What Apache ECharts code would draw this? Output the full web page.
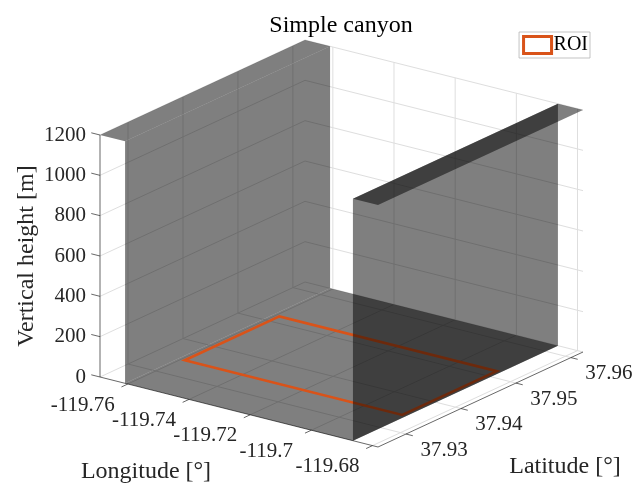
<!DOCTYPE html>
<html>
<head>
<meta charset="utf-8">
<script src="https://cdn.jsdelivr.net/npm/echarts@6/dist/echarts.min.js"></script>
<style>
  html, body { margin: 0; padding: 0; background: #ffffff; }
  #chart { width: 634px; height: 488px; }
</style>
</head>
<body>
<div id="chart"></div>
<script>
// ---- Axis ticks ----
const lonTicks = [-119.76, -119.74, -119.72, -119.70, -119.68];
const latTicks = [37.93, 37.94, 37.95, 37.96];
const heightTicks = [0, 200, 400, 600, 800, 1000, 1200];

// ---- Axis limits [min, max] ----
const lonLimits = [-119.7691, -119.6782];
const latLimits = [37.9249, 37.9622];
const heightLimits = [0, 1200];

// ---- Canyon blocks: [lonMin, lonMax, latMin, latMax, height] ----
const westBlock = [-119.7800, -119.7609, 37.9100, 37.9800, 1200];
const eastBlock = [-119.6864, -119.6600, 37.9100, 37.9800, 1200];

// ---- Canyon floor: [lonMin, lonMax, latMin, latMax] ----
const canyonFloor = [-119.7609, -119.6864, 37.9100, 37.9800];

// ---- Region of interest: [lonMin, lonMax, latMin, latMax] ----
const roiBox = [-119.7588, -119.6877, 37.9346, 37.9518];

// ---- View: screen placement of the 3-D axes box (orthographic) ----
const VIEW = {
  origin: [100, 377],   // (lonMin, latMin, 0)
  ex: [278, 70],        // full longitude span
  ey: [205, -95],       // full latitude span
  ez: [0, -242]         // full height span
};

const SERIF = '"Liberation Serif", "Times New Roman", serif';
const TICK_FONT = '21px ' + SERIF;
const LABEL_FONT = '24px ' + SERIF;
const GRID_COLOR = '#dedede';
const AXIS_COLOR = '#262626';
const SHADE = 'rgba(0,0,0,0.5)';
const ROI_COLOR = '#D95319';

function frac(v, r) { return (v - r[0]) / (r[1] - r[0]); }
function project(p) {
  const a = frac(p[0], lonLimits), b = frac(p[1], latLimits), c = frac(p[2], heightLimits);
  return [
    VIEW.origin[0] + a * VIEW.ex[0] + b * VIEW.ey[0] + c * VIEW.ez[0],
    VIEW.origin[1] + a * VIEW.ex[1] + b * VIEW.ey[1] + c * VIEW.ez[1]
  ];
}
function unit(v, s) { const l = Math.hypot(v[0], v[1]); return [v[0] / l * s, v[1] / l * s]; }
function clamp(v, r) { return Math.min(Math.max(v, r[0]), r[1]); }
function within(v, r) { return v >= r[0] - 1e-9 && v <= r[1] + 1e-9; }

// Walls and roof of a block, clipped to the axes limits
function blockFaces(b) {
  const [x0, x1, y0, y1, h] = b;
  const cx0 = clamp(x0, lonLimits), cx1 = clamp(x1, lonLimits);
  const cy0 = clamp(y0, latLimits), cy1 = clamp(y1, latLimits);
  const ch = clamp(h, heightLimits);
  const faces = [[[cx0, cy0, ch], [cx1, cy0, ch], [cx1, cy1, ch], [cx0, cy1, ch]]];
  if (within(x0, lonLimits)) faces.push([[x0, cy0, 0], [x0, cy1, 0], [x0, cy1, ch], [x0, cy0, ch]]);
  if (within(x1, lonLimits)) faces.push([[x1, cy0, 0], [x1, cy1, 0], [x1, cy1, ch], [x1, cy0, ch]]);
  if (within(y0, latLimits)) faces.push([[cx0, y0, 0], [cx1, y0, 0], [cx1, y0, ch], [cx0, y0, ch]]);
  if (within(y1, latLimits)) faces.push([[cx0, y1, 0], [cx1, y1, 0], [cx1, y1, ch], [cx0, y1, ch]]);
  return faces;
}
function groundFace(g) {
  const x0 = clamp(g[0], lonLimits), x1 = clamp(g[1], lonLimits);
  const y0 = clamp(g[2], latLimits), y1 = clamp(g[3], latLimits);
  return [[x0, y0, 0], [x1, y0, 0], [x1, y1, 0], [x0, y1, 0]];
}

// ---- Grid lines on floor and the two back planes ----
const [L0, L1] = lonLimits, [B0, B1] = latLimits, [H0, H1] = heightLimits;
const gridSegments = [];
lonTicks.forEach(t => {
  gridSegments.push([[t, B0, H0], [t, B1, H0]]);
  gridSegments.push([[t, B1, H0], [t, B1, H1]]);
});
latTicks.forEach(t => {
  gridSegments.push([[L0, t, H0], [L1, t, H0]]);
  gridSegments.push([[L0, t, H0], [L0, t, H1]]);
});
heightTicks.forEach(h => {
  gridSegments.push([[L0, B0, h], [L0, B1, h]]);
  gridSegments.push([[L0, B1, h], [L1, B1, h]]);
});

const floorFaces = [groundFace(canyonFloor)];
const westFaces = blockFaces(westBlock);
const eastFaces = blockFaces(eastBlock);
const roiOutline = [[roiBox[0], roiBox[2], 0], [roiBox[1], roiBox[2], 0], [roiBox[1], roiBox[3], 0], [roiBox[0], roiBox[3], 0]];

function indexData(list) { return list.map((_, i) => [i, 0]); }

function polygonSeries(name, faces, z, style) {
  return {
    type: 'custom', name: name, coordinateSystem: 'cartesian2d', z: z, clip: false, silent: true,
    data: indexData(faces),
    renderItem: function (params, api) {
      const pts = faces[params.dataIndex].map(p => api.coord(project(p)));
      return { type: 'polygon', shape: { points: pts }, style: style };
    }
  };
}

// Axis lines, ticks and tick labels
const axisItems = [];
axisItems.push({ kind: 'line', a: [L0, B0, H0], b: [L1, B0, H0] });
axisItems.push({ kind: 'line', a: [L1, B0, H0], b: [L1, B1, H0] });
axisItems.push({ kind: 'line', a: [L0, B0, H0], b: [L0, B0, H1] });
const lonTickDir = unit([-VIEW.ey[0], -VIEW.ey[1]], 1);
const latTickDir = unit(VIEW.ex, 1);
const hTickDir = unit([-VIEW.ex[0], -VIEW.ex[1]], 1);
lonTicks.forEach(t => axisItems.push({ kind: 'tick', p: [t, B0, H0], dir: lonTickDir, len: 7,
  text: String(t), off: [-45, 21], align: 'center' }));
latTicks.forEach(t => axisItems.push({ kind: 'tick', p: [L1, t, H0], dir: latTickDir, len: 7,
  text: String(t), off: [38, 16], align: 'center' }));
heightTicks.forEach(h => axisItems.push({ kind: 'tick', p: [L0, B0, h], dir: hTickDir, len: 9,
  text: String(h), off: [-14, 0], align: 'right' }));

const option = {
  backgroundColor: '#ffffff',
  animation: false,
  grid: { left: 0, right: 0, top: 0, bottom: 0 },
  xAxis: { type: 'value', min: 0, max: 634, show: false },
  yAxis: { type: 'value', min: 0, max: 488, inverse: true, show: false },
  legend: {
    data: [{ name: 'ROI', icon: 'rect', itemStyle: { color: '#ffffff', borderColor: ROI_COLOR, borderWidth: 3 } }],
    right: 44, top: 32, itemWidth: 28, itemHeight: 17,
    padding: [3, 2, 3, 3], borderColor: '#b4b4b4', borderWidth: 0.8, backgroundColor: '#ffffff',
    selectedMode: false,
    textStyle: { fontFamily: SERIF, fontSize: 20, color: '#000000', padding: [0, 0, 0, -3] }
  },
  graphic: [
    { type: 'text', x: 341, y: 26,
      style: { text: 'Simple canyon', font: LABEL_FONT, fill: '#000000', align: 'center', verticalAlign: 'middle' } },
    { type: 'text', x: 146, y: 472, style: { text: 'Longitude [°]', font: LABEL_FONT, fill: '#262626', align: 'center', verticalAlign: 'middle' } },
    { type: 'text', x: 565, y: 467, style: { text: 'Latitude [°]', font: LABEL_FONT, fill: '#262626', align: 'center', verticalAlign: 'middle' } },
    { type: 'text', x: 27, y: 256, rotation: Math.PI / 2,
      style: { text: 'Vertical height [m]', font: LABEL_FONT, fill: '#262626', align: 'center', verticalAlign: 'middle' } }
  ],
  series: [
    {
      type: 'custom', name: 'grid', coordinateSystem: 'cartesian2d', z: 1, clip: false, silent: true,
      data: indexData(gridSegments),
      renderItem: function (params, api) {
        const s = gridSegments[params.dataIndex];
        const p = api.coord(project(s[0])), q = api.coord(project(s[1]));
        return { type: 'line', shape: { x1: p[0], y1: p[1], x2: q[0], y2: q[1] },
          style: { stroke: GRID_COLOR, lineWidth: 1 } };
      }
    },
    {
      type: 'custom', name: 'axes', coordinateSystem: 'cartesian2d', z: 2, clip: false, silent: true,
      data: indexData(axisItems),
      renderItem: function (params, api) {
        const it = axisItems[params.dataIndex];
        if (it.kind === 'line') {
          const p = api.coord(project(it.a)), q = api.coord(project(it.b));
          return { type: 'line', shape: { x1: p[0], y1: p[1], x2: q[0], y2: q[1] },
            style: { stroke: AXIS_COLOR, lineWidth: 0.7 } };
        }
        const p = api.coord(project(it.p));
        return { type: 'group', children: [
          { type: 'line', shape: { x1: p[0], y1: p[1], x2: p[0] + it.dir[0] * it.len, y2: p[1] + it.dir[1] * it.len },
            style: { stroke: AXIS_COLOR, lineWidth: 0.7 } },
          { type: 'text', x: p[0] + it.off[0], y: p[1] + it.off[1],
            style: { text: it.text, font: TICK_FONT, fill: '#262626', align: it.align, verticalAlign: 'middle' } }
        ] };
      }
    },
    polygonSeries('floor', floorFaces, 3, { fill: SHADE }),
    polygonSeries('west', westFaces, 4, { fill: SHADE }),
    {
      type: 'custom', name: 'ROI', coordinateSystem: 'cartesian2d', z: 5, clip: false, silent: true,
      itemStyle: { color: '#ffffff', borderColor: ROI_COLOR },
      data: [[0, 0]],
      renderItem: function (params, api) {
        const pts = roiOutline.map(p => api.coord(project(p)));
        return { type: 'polygon', shape: { points: pts },
          style: { fill: 'none', stroke: ROI_COLOR, lineWidth: 2.6, lineJoin: 'miter' } };
      }
    },
    polygonSeries('east', eastFaces, 6, { fill: SHADE })
  ]
};

const chart = echarts.init(document.getElementById('chart'));
chart.setOption(option);
</script>
</body>
</html>
